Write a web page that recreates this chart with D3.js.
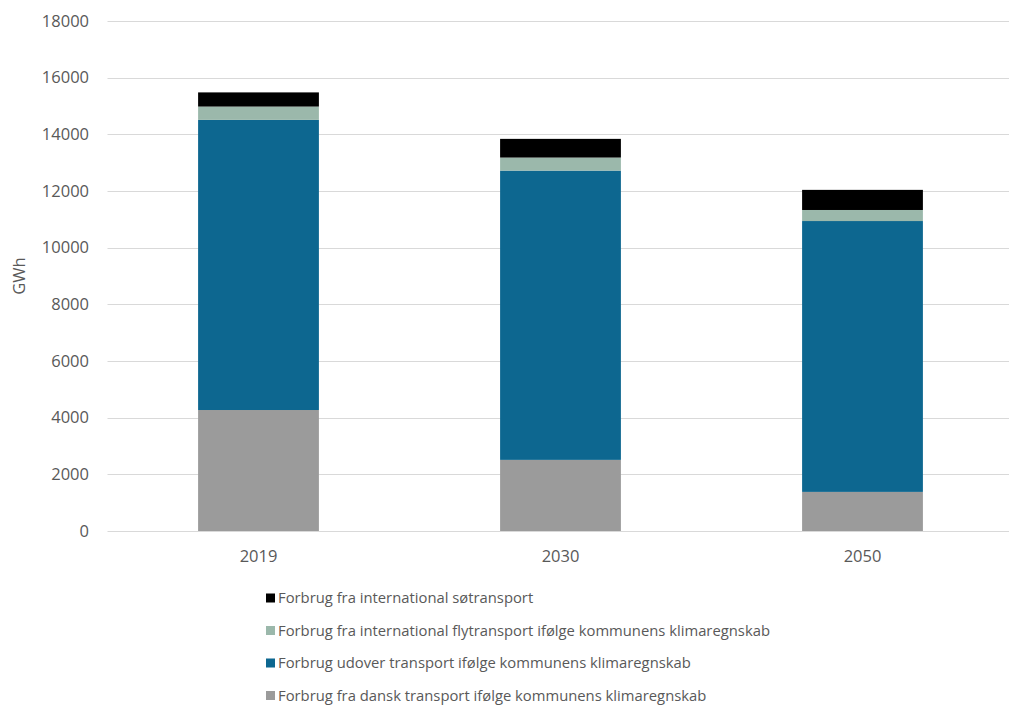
<!DOCTYPE html>
<html>
<head>
<meta charset="utf-8">
<script src="https://cdn.jsdelivr.net/npm/d3@7"></script>
<style>
  body { margin: 0; background: #fff; }
  text { font-family: "Open Sans", sans-serif; fill: #595959; }
</style>
</head>
<body>
<svg id="chart" width="1009" height="705"></svg>
<script>
const years = ["2019", "2030", "2050"];
const dansk = [4270, 2510, 1380];
const udover = [10240, 10210, 9560];
const fly = [470, 460, 390];
const soe = [500, 660, 710];
const yTicks = [0, 2000, 4000, 6000, 8000, 10000, 12000, 14000, 16000, 18000];

const seriesNames = [
  "Forbrug fra dansk transport ifølge kommunens klimaregnskab",
  "Forbrug udover transport ifølge kommunens klimaregnskab",
  "Forbrug fra international flytransport ifølge kommunens klimaregnskab",
  "Forbrug fra international søtransport"
];
const seriesColors = ["#9b9b9b", "#0d6790", "#9bb8ab", "#000000"];
const seriesValues = [dansk, udover, fly, soe];

const svg = d3.select("#chart");
const plotLeft = 107.5, plotRight = 1013.5, plotTop = 21, plotBottom = 531;

const x = d3.scaleBand().domain(years).range([plotLeft, plotRight]).paddingInner(0.6).paddingOuter(0.3);
const y = d3.scaleLinear().domain([0, 18000]).range([plotBottom, plotTop]);

// gridlines
svg.append("g")
  .selectAll("line")
  .data(yTicks)
  .enter()
  .append("line")
  .attr("x1", plotLeft)
  .attr("x2", 1009)
  .attr("y1", d => Math.round(y(d)) + 0.5)
  .attr("y2", d => Math.round(y(d)) + 0.5)
  .attr("stroke", "#d9d9d9")
  .attr("stroke-width", 1);

// y labels
svg.append("g")
  .selectAll("text")
  .data(yTicks)
  .enter()
  .append("text")
  .attr("x", 89)
  .attr("y", d => y(d))
  .attr("dy", "0.35em")
  .attr("text-anchor", "end")
  .style("font-size", "16.5px")
  .text(d => d);

// stacked bars
const table = years.map((yr, i) => {
  const row = { year: yr };
  seriesNames.forEach((n, j) => row[n] = seriesValues[j][i]);
  return row;
});
const stack = d3.stack().keys(seriesNames)(table);

svg.append("g")
  .selectAll("g")
  .data(stack)
  .enter()
  .append("g")
  .attr("fill", (d, i) => seriesColors[i])
  .selectAll("rect")
  .data(d => d)
  .enter()
  .append("rect")
  .attr("x", d => x(d.data.year))
  .attr("width", x.bandwidth())
  .attr("y", d => y(d[1]))
  .attr("height", d => y(d[0]) - y(d[1]));

// x labels
svg.append("g")
  .selectAll("text")
  .data(years)
  .enter()
  .append("text")
  .attr("x", d => x(d) + x.bandwidth() / 2)
  .attr("y", 562)
  .attr("text-anchor", "middle")
  .style("font-size", "16.5px")
  .text(d => d);

// y title
svg.append("text")
  .attr("transform", "translate(25,276) rotate(-90)")
  .attr("text-anchor", "middle")
  .style("font-size", "16.5px")
  .text("GWh");

// legend (top to bottom in reverse stack order)
const legendOrder = [3, 2, 1, 0];
const legend = svg.append("g")
  .selectAll("g")
  .data(legendOrder)
  .enter()
  .append("g")
  .attr("transform", (d, i) => "translate(266," + (598 + i * 32.5) + ")");

legend.append("rect")
  .attr("x", 0)
  .attr("y", -4.5)
  .attr("width", 9)
  .attr("height", 9)
  .attr("fill", d => seriesColors[d]);

legend.append("text")
  .attr("x", 12)
  .attr("y", 0)
  .attr("dy", "0.35em")
  .style("font-size", "14.8px")
  .text(d => seriesNames[d]);
</script>
</body>
</html>
